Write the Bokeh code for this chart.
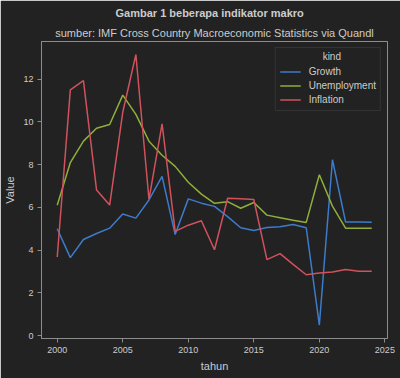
from bokeh.plotting import figure
from bokeh.models import Range1d, Legend, LegendItem, FixedTicker, Label, Title
from bokeh.embed import file_html
from bokeh.resources import INLINE

years = list(range(2000, 2025))
growth = [5.0, 3.65, 4.5, 4.78, 5.03, 5.69, 5.5, 6.35, 7.45, 4.73, 6.4, 6.2,
          6.05, 5.57, 5.05, 4.92, 5.06, 5.1, 5.2, 5.05, 0.5, 8.23, 5.32, 5.32, 5.31]
unemployment = [6.1, 8.1, 9.1, 9.7, 9.88, 11.25, 10.35, 9.1, 8.44, 7.92, 7.18, 6.62,
                6.19, 6.27, 5.96, 6.23, 5.64, 5.52, 5.4, 5.3, 7.53, 6.06, 5.03, 5.03, 5.03]
inflation = [3.68, 11.5, 11.93, 6.82, 6.11, 10.45, 13.15, 6.38, 9.91, 4.88, 5.17, 5.38,
             4.02, 6.43, 6.4, 6.37, 3.56, 3.84, 3.34, 2.85, 2.93, 2.98, 3.1, 3.02, 3.02]
series_names = ["Growth", "Unemployment", "Inflation"]
x_ticks = [2000, 2005, 2010, 2015, 2020, 2025]
y_ticks = [0, 2, 4, 6, 8, 10, 12]

title_text = "Gambar 1 beberapa indikator makro"
subtitle_text = "sumber: IMF Cross Country Macroeconomic Statistics via Quandl"
x_label = "tahun"
y_label = "Value"
legend_title = "kind"

BG = "#222222"
SPINE = "#8c8c8c"
TXT = "#cccccc"
FONT = "Liberation Sans"
colors = ["#3d7bcb", "#8fae3c", "#d0525c"]

p = figure(width=400, height=378, output_backend="svg", toolbar_location=None,
           x_range=Range1d(1998.8, 2025.2), y_range=Range1d(-0.13, 13.76),
           min_border_left=41, min_border_right=13, min_border_bottom=40,
           min_border_top=0)
p.title = None
p.background_fill_color = BG
p.border_fill_color = BG
p.outline_line_color = SPINE
p.outline_line_width = 1
p.xgrid.visible = False
p.ygrid.visible = False

for ax in (p.xaxis[0], p.yaxis[0]):
    ax.axis_line_color = SPINE
    ax.major_tick_line_color = SPINE
    ax.minor_tick_line_color = None
    ax.major_tick_out = 4
    ax.major_tick_in = 0
    ax.major_label_text_color = TXT
    ax.major_label_text_font = FONT
    ax.major_label_text_font_size = "9px"
    ax.axis_label_text_color = TXT
    ax.axis_label_text_font = FONT
    ax.axis_label_text_font_size = "11px"
    ax.axis_label_text_font_style = "normal"
    ax.major_label_standoff = 4
    ax.axis_label_standoff = 4

p.xaxis.ticker = FixedTicker(ticks=x_ticks)
p.yaxis.ticker = FixedTicker(ticks=y_ticks)
p.xaxis.axis_label = x_label
p.yaxis.axis_label = y_label

items = []
for name, vals, c in zip(series_names, [growth, unemployment, inflation], colors):
    r = p.line(years, vals, line_color=c, line_width=1.5)
    items.append(LegendItem(label=name, renderers=[r]))

legend = Legend(items=items, location="top_right", title=" ",
                title_text_font=FONT, title_text_font_size="10px",
                title_text_font_style="normal", title_text_color=TXT,
                label_text_font=FONT, label_text_font_size="10px",
                label_text_color=TXT, background_fill_color=BG,
                background_fill_alpha=0.0, border_line_color="#444444",
                border_line_width=1, glyph_width=21, glyph_height=13,
                label_height=13, spacing=1, padding=4, margin=6,
                label_standoff=8, title_standoff=2)
p.add_layout(legend)

# centred legend title, drawn over the legend box
p.add_layout(Label(x=2020.95, y=13.05, text=legend_title, text_align="center",
                   text_baseline="middle", text_font=FONT, level="overlay",
                   text_font_size="10px", text_color=TXT))

p.add_layout(Title(text=subtitle_text, align="center", text_font=FONT,
                   text_font_size="11px", text_font_style="normal",
                   text_color=TXT, standoff=5, text_line_height=1.0), "above")
p.add_layout(Title(text=title_text, align="left", text_font=FONT,
                   text_font_size="11px", text_font_style="bold",
                   text_color=TXT, offset=74, standoff=8,
                   text_line_height=1.0), "above")

open("out.html", "w").write(file_html(p, INLINE))
